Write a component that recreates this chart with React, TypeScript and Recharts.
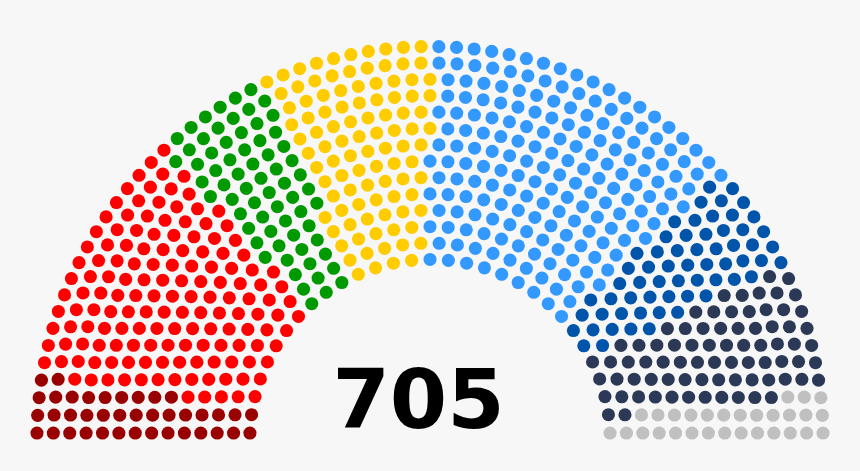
import React from 'react';
import { ScatterChart, Scatter, XAxis, YAxis, ReferenceDot } from 'recharts';

// European Parliament, 705 seats
const partyNames = ['GUE/NGL', 'S&D', 'Greens/EFA', 'Renew', 'EPP', 'ECR', 'ID', 'NI'];
const partySeats = [39, 148, 67, 98, 187, 61, 76, 29];
const partyColors = ['#990000', '#FF0000', '#009900', '#FFCC00', '#3399FF', '#0055AA', '#2B3856', '#C0C0C0'];
const totalLabel = '705';

// seats a hemicycle of n rows can hold (parliament diagram tool)
const rowTotals = [3, 15, 33, 61, 95, 138, 189, 247, 313, 388, 469, 559, 657, 762, 876, 997, 1126];

const W = 860;
const H = 471;
const SCALE = 229.3; // px per unit radius
const CX = 430;
const CY = 439.6;

type Seat = { x: number; y: number; angle: number };

function layoutSeats(total: number): { seats: Seat[]; dot: number } {
  let rows = rowTotals.length;
  for (let i = 0; i < rowTotals.length; i++) {
    if (rowTotals[i] >= total) {
      rows = i + 1;
      break;
    }
  }
  const radius = 0.4 / rows;
  const seats: Seat[] = [];
  const pushRow = (R: number, J: number) => {
    if (J === 1) {
      seats.push({ angle: Math.PI / 2, x: 0, y: R });
      return;
    }
    for (let j = 0; j < J; j++) {
      const a = (j * (Math.PI - 2 * Math.sin(radius / R))) / (J - 1) + Math.sin(radius / R);
      seats.push({ angle: a, x: R * Math.cos(a), y: R * Math.sin(a) });
    }
  };
  for (let i = 1; i < rows; i++) {
    const J = Math.floor((total / rowTotals[rows - 1]) * Math.PI / (2 * Math.asin(2 / (3 * rows + 4 * i - 2))));
    const R = (3 * rows + 4 * i - 2) / (4 * rows);
    pushRow(R, J);
  }
  const Rout = (3 * rows + 4 * rows - 2) / (4 * rows);
  pushRow(Rout, total - seats.length);
  // left to right; seats on the same angle go outer-first like the original tool
  seats.sort((a, b) => b.angle - a.angle || (b.x + 1.75) - (a.x + 1.75) || b.y - a.y);
  return { seats, dot: radius };
}

const total = partySeats.reduce((s, v) => s + v, 0);
const { seats, dot } = layoutSeats(total);

const partyData: Seat[][] = [];
{
  let k = 0;
  partySeats.forEach((n) => {
    partyData.push(seats.slice(k, k + n));
    k += n;
  });
}

const dotPx = dot * SCALE;

export default function App() {
  return (
    <div style={{ position: 'fixed', left: 0, top: 0, width: W, height: H, background: '#f7f7f7' }}>
      <ScatterChart width={W} height={H} margin={{ top: 0, right: 0, bottom: 0, left: 0 }}>
        <XAxis type="number" dataKey="x" hide domain={[-CX / SCALE, (W - CX) / SCALE]} allowDataOverflow />
        <YAxis type="number" dataKey="y" hide domain={[-(H - CY) / SCALE, CY / SCALE]} allowDataOverflow />
        {partyData.map((data, i) => (
          <Scatter
            key={partyNames[i]}
            name={partyNames[i]}
            data={data}
            isAnimationActive={false}
            shape={(p: any) => <circle cx={p.cx} cy={p.cy} r={dotPx} fill={partyColors[i]} />}
          />
        ))}
        <ReferenceDot
          x={-5 / 100}
          y={5 / 100}
          ifOverflow="visible"
          shape={(p: any) => (
            <text
              x={p.cx}
              y={p.cy}
              textAnchor="middle"
              fontFamily="DejaVu Sans"
              fontWeight="bold"
              fontSize={36 * SCALE / 100}
              fill="#000"
            >
              {totalLabel}
            </text>
          )}
        />
      </ScatterChart>
    </div>
  );
}
